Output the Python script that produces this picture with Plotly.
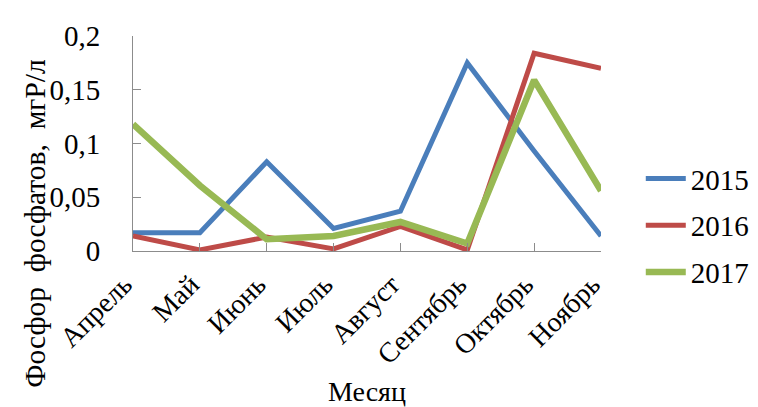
import plotly.graph_objects as go

months = ["Апрель", "Май", "Июнь", "Июль", "Август", "Сентябрь", "Октябрь", "Ноябрь"]
v2015 = [0.017, 0.017, 0.083, 0.021, 0.037, 0.175, 0.093, 0.014]
v2016 = [0.014, 0.001, 0.013, 0.002, 0.023, 0.001, 0.184, 0.170]
v2017 = [0.118, 0.061, 0.011, 0.014, 0.027, 0.007, 0.159, 0.056]
ytick_vals = [0, 0.05, 0.1, 0.15, 0.2]
ytick_text = ["0", "0,05", "0,1", "0,15", "0,2"]

FONT = "Liberation Serif, Times New Roman, serif"

fig = go.Figure()
series = [("2015", v2015, "#4A7EBB", 5), ("2016", v2016, "#BE4B48", 5), ("2017", v2017, "#98B954", 6.5)]
for name, vals, col, w in series:
    fig.add_trace(go.Scatter(x=months, y=vals, mode="lines", name=name,
                             legendgroup=name,
                             line=dict(color=col, width=w, shape="linear")))

fig.update_layout(
    width=758, height=407,
    margin=dict(l=125, r=158, t=23, b=164),
    paper_bgcolor="white", plot_bgcolor="white",
    font=dict(family=FONT, size=28, color="black"),
    showlegend=True,
    legend=dict(x=1.085, y=0.118, xanchor="left", yanchor="middle",
                font=dict(family=FONT, size=29, color="black"),
                tracegroupgap=6, itemwidth=40, bgcolor="rgba(0,0,0,0)"),
    xaxis=dict(type="category", range=[0, 7], showline=True, linecolor="#8c8c8c", linewidth=1,
               ticks="inside", ticklen=8, tickcolor="#8c8c8c", tickwidth=1,
               showgrid=False, zeroline=False, tickangle=-45,
               tickfont=dict(family=FONT, size=28), ticklabelstandoff=5, ticklabelshift=-9),
    yaxis=dict(range=[0, 0.2], tickvals=ytick_vals, ticktext=ytick_text,
               showline=True, linecolor="#8c8c8c", linewidth=1,
               ticks="inside", ticklen=8, tickcolor="#8c8c8c", tickwidth=1,
               showgrid=False, zeroline=False,
               tickfont=dict(family=FONT, size=29), ticklabelstandoff=26),
    annotations=[
        dict(text="Фосфор\u00a0 фосфатов,\u00a0 мгР/л", xref="paper", yref="paper",
             x=-0.21, y=0.13, xanchor="center", yanchor="middle", textangle=-90,
             showarrow=False, font=dict(family=FONT, size=29.5, color="black")),
        dict(text="Месяц", xref="paper", yref="paper", x=0.5, y=-0.655,
             xanchor="center", yanchor="middle", showarrow=False,
             font=dict(family=FONT, size=28, color="black")),
    ],
)

fig.write_html("out.html")
